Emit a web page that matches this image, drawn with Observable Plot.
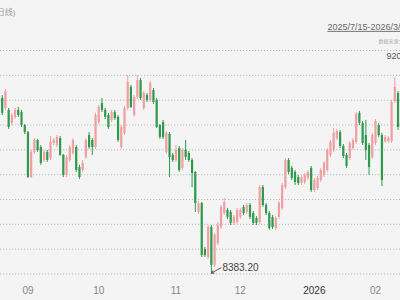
<!DOCTYPE html>
<html><head><meta charset="utf-8">
<script src="https://cdn.jsdelivr.net/npm/d3@7"></script>
<script src="https://cdn.jsdelivr.net/npm/@observablehq/plot@0.6"></script>
<style>html,body{margin:0;padding:0;background:#f4f4f4;overflow:hidden}</style>
</head><body><div id="chart"></div>
<script>
const opens = [9028,8991,8984,8936,8958,8984,8976,8928,8902,8736,8829,8873,8847,8799,8829,8806,8862,8854,8880,8818,
8744,8799,8825,8847,8773,8762,8810,8891,8873,8847,8939,9009,8984,8965,8947,8976,8958,8847,8899,8991,
9069,8965,9032,9094,8991,9039,9021,9057,9021,8928,8939,8829,8895,8818,8799,8843,8770,8836,8825,8799,
8755,8607,8640,8470,8441,8552,8412,8493,8552,8603,8615,8607,8567,8570,8589,8626,8607,8633,8603,8585,
8570,8699,8633,8603,8589,8548,8589,8622,8699,8799,8770,8755,8736,8714,8718,8733,8770,8688,8696,8725,
8744,8762,8818,8836,8880,8902,8851,8818,8806,8843,8866,8973,8936,8891,8854,8810,8862,8928,8891,8869,
8869,8869,9017,9046];
const highs = [9039,9061,8991,8973,8991,8995,8984,8932,8906,8836,8880,8877,8854,8836,8836,8888,8880,8891,8888,8821,
8818,8854,8880,8854,8781,8799,8880,8902,8880,8973,9002,9028,8991,8973,8984,8984,8965,8928,8998,9113,
9076,9039,9113,9102,9054,9046,9091,9065,9028,8932,8947,8906,8902,8825,8854,8851,8843,8873,8832,8806,
8758,8648,8644,8478,8559,8559,8530,8570,8633,8659,8622,8615,8596,8622,8622,8633,8640,8640,8611,8592,
8707,8707,8640,8611,8596,8592,8648,8714,8806,8806,8777,8762,8744,8744,8751,8762,8777,8733,8740,8770,
8795,8843,8873,8917,8914,8910,8858,8825,8869,8880,8976,8980,8943,8947,8862,8899,8950,8936,8899,8891,
8888,9021,9105,9054];
const lows = [8965,8984,8914,8928,8950,8958,8921,8895,8733,8733,8821,8829,8781,8792,8792,8799,8854,8847,8814,8736,
8736,8792,8818,8755,8729,8755,8803,8840,8818,8840,8932,8976,8950,8914,8939,8947,8866,8840,8891,8984,
8991,8958,9024,9021,8984,9013,9013,9006,8917,8877,8877,8821,8736,8792,8792,8755,8762,8799,8792,8699,
8607,8600,8441,8441,8434,8383.2,8404,8485,8544,8596,8581,8559,8559,8563,8581,8596,8600,8581,8559,8559,
8563,8626,8596,8541,8544,8541,8581,8615,8692,8747,8725,8707,8707,8707,8710,8725,8681,8681,8688,8718,
8736,8755,8810,8829,8873,8843,8806,8770,8799,8836,8858,8928,8854,8799,8744,8803,8854,8884,8703,8862,
8862,8862,9009,8910];
const closes = [8973,9054,8921,8965,8984,8965,8928,8902,8736,8829,8873,8836,8788,8829,8799,8866,8873,8884,8818,8744,
8810,8847,8873,8762,8736,8788,8873,8847,8847,8965,8995,8984,8958,8921,8976,8954,8873,8921,8991,9087,
8995,9032,9094,9028,9046,9021,9083,9013,8921,8884,8884,8899,8810,8799,8836,8762,8836,8810,8799,8751,
8640,8640,8448,8448,8552,8412,8522,8559,8626,8644,8589,8567,8589,8615,8615,8603,8633,8589,8567,8567,
8699,8633,8603,8548,8552,8585,8640,8707,8799,8755,8733,8718,8714,8736,8744,8755,8688,8725,8733,8762,
8788,8836,8866,8899,8906,8851,8814,8777,8862,8873,8969,8936,8862,8836,8773,8891,8943,8891,8725,8884,
8880,9013,9069,8921];
const gridTicks = [9205, 9113.3, 9021.7, 8930, 8838.3, 8746.7, 8655, 8563.3, 8471.7, 8380];
const monthIdx = [8, 30, 54, 74, 97, 116];
const monthLabels = ["09", "10", "11", "12", "2026", "02"];
const lowLabel = "8383.20";
const rangeLabel = "2025/7/15-2026/3/6";
const topLabel = "9205.00";
const periodLabel = "(日线)";
const noteLabel = "数据来源：东方财富";

const candles = opens.map((o, i) => ({i, open: o, high: highs[i], low: lows[i], close: closes[i]}));
const ups = candles.filter(d => d.close >= d.open);
const downs = candles.filter(d => d.close < d.open);
const lowest = candles.reduce((a, b) => (b.low < a.low ? b : a));
const upColor = "#ef9fa1", downColor = "#2f9a4c";
const months = monthIdx.map((x, k) => ({x, label: monthLabels[k]}));

const chart = Plot.plot({
  width: 400, height: 300, margin: 0,
  x: {domain: [-0.53, 123.77], axis: null},
  y: {domain: [8282.2, 9389.6], axis: null},
  style: {background: "#f4f4f4", fontFamily: "'Liberation Sans','Noto Sans CJK SC',sans-serif"},
  marks: [
    Plot.ruleY(gridTicks, {stroke: "#bdbdbd", strokeDasharray: "1.2,1.8", strokeWidth: 1}),
    Plot.ruleX(ups, {x: "i", y1: "low", y2: "high", stroke: upColor, strokeWidth: 1}),
    Plot.ruleX(downs, {x: "i", y1: "low", y2: "high", stroke: downColor, strokeWidth: 1}),
    Plot.ruleX(ups, {x: "i", y1: "open", y2: "close", stroke: upColor, strokeWidth: 2.2}),
    Plot.ruleX(downs, {x: "i", y1: "open", y2: "close", stroke: downColor, strokeWidth: 2.2}),
    Plot.arrow([lowest], {x1: d => d.i + 3, y1: d => d.low + 20, x2: "i", y2: "low", stroke: "#555", strokeWidth: 1, headLength: 4}),
    Plot.text([lowest], {x: "i", y: "low", text: () => lowLabel, dx: 11, dy: -5, textAnchor: "start", fill: "#444", fontSize: 10}),
    Plot.text(months.filter(m => m.label !== "2026"), {x: "x", text: "label", frameAnchor: "bottom", dy: -7, fill: "#888", fontSize: 10}),
    Plot.text(months.filter(m => m.label === "2026"), {x: "x", text: "label", frameAnchor: "bottom", dy: -7, fill: "#333", fontSize: 10}),
    Plot.text([periodLabel], {frameAnchor: "top-left", dx: 15, dy: 9, textAnchor: "end", fill: "#999", fontSize: 8}),
    Plot.text([rangeLabel], {frameAnchor: "top-right", dx: -73, dy: 23, textAnchor: "start", fill: "#666", fontSize: 9}),
    Plot.text([noteLabel], {frameAnchor: "top-right", dx: -22, dy: 39, textAnchor: "start", fill: "#aaa", fontSize: 5}),
    Plot.text([gridTicks[0]], {y: d => d, text: () => topLabel, frameAnchor: "right", dx: -14, dy: 6, textAnchor: "start", fill: "#555", fontSize: 9})
  ]
});
d3.select(chart).selectAll("text").filter(function () { return this.textContent === rangeLabel; })
  .style("text-decoration", "underline");
document.getElementById("chart").appendChild(chart);
</script></body></html>
